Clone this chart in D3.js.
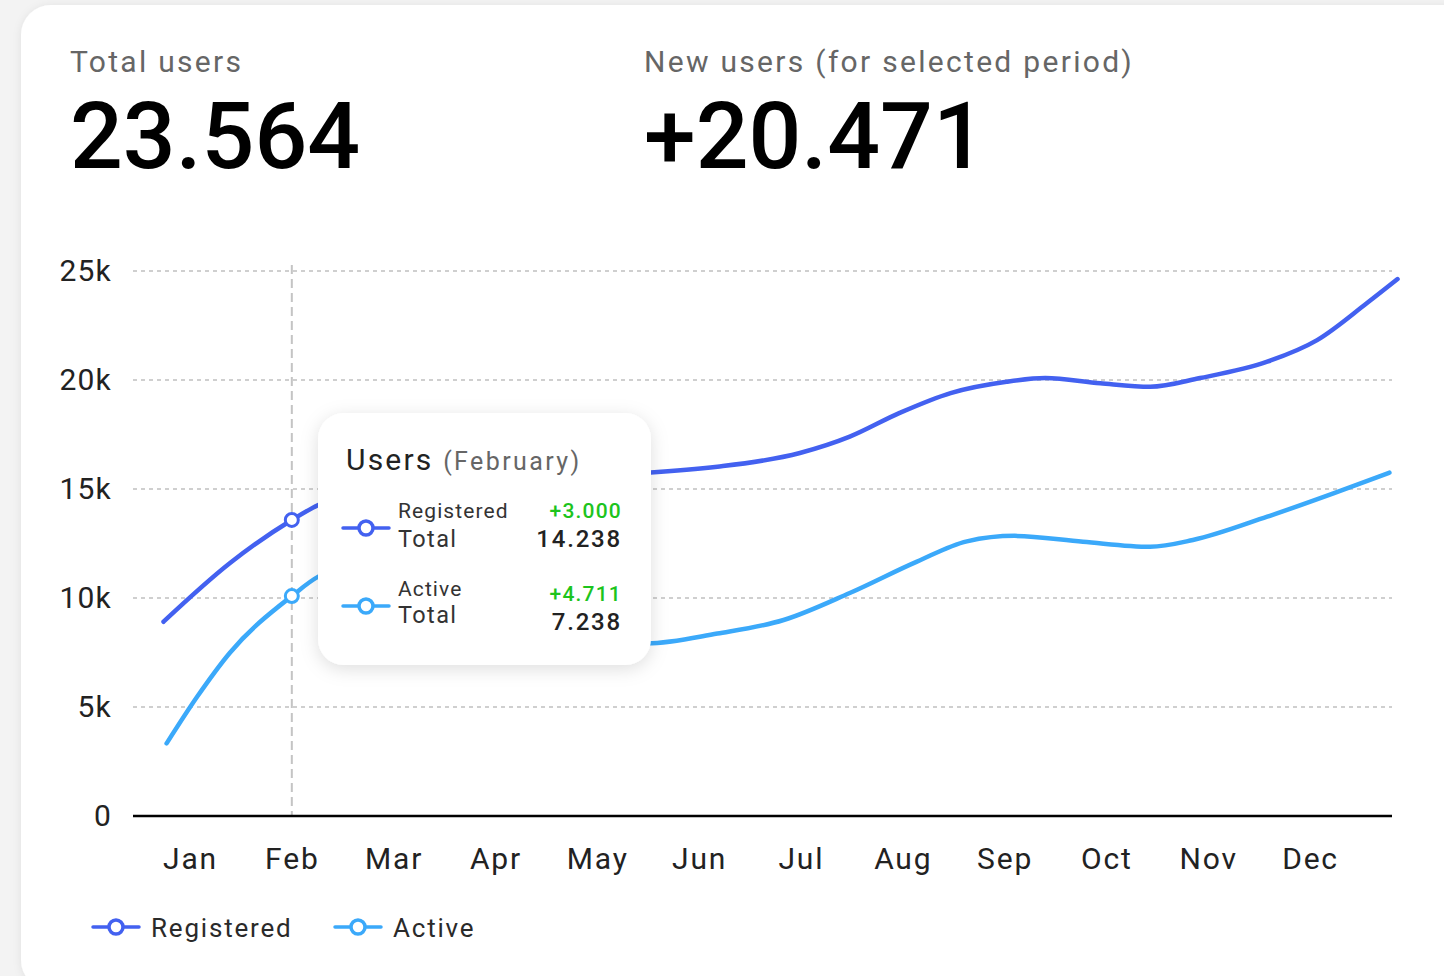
<!DOCTYPE html>
<html lang="en">

<head>
    <meta charset="UTF-8">
    <title>Users</title>
    <style>
        html, body { margin: 0; padding: 0; background: #f3f3f3; overflow: hidden; }
        svg { display: block; font-family: Roboto, "Noto Sans", sans-serif; }
    </style>
</head>

<body>
    <div id="chart"></div>

    <script src="https://d3js.org/d3.v7.min.js"></script>
    <script>
        // ---- data ----
        const months = ["Jan", "Feb", "Mar", "Apr", "May", "Jun", "Jul", "Aug", "Sep", "Oct", "Nov", "Dec"];
        const yTicks = [0, 5000, 10000, 15000, 20000, 25000];

        // position in months (0 = Jan) and value
        const registeredAt = [-0.26, 0.39, 1, 1.26, 2, 3, 4, 4.49, 5.18, 5.99, 6.48, 6.97, 7.47, 8.02, 8.4, 8.94, 9.43, 9.92, 10.58, 11.07, 11.56, 11.86];
        const registeredValues = [8910, 11590, 13580, 14270, 15100, 15450, 15650, 15750, 16020, 16650, 17400, 18490, 19400, 19920, 20090, 19850, 19690, 20090, 20840, 21830, 23530, 24630];

        const activeAt = [-0.23, 0.07, 0.39, 1, 1.26, 2, 3, 3.9, 4.49, 5.18, 5.83, 6.48, 7.14, 7.63, 8.1, 8.77, 9.43, 9.85, 10.58, 11.23, 11.78];
        const activeValues = [3330, 5470, 7480, 10090, 10980, 11900, 10300, 8200, 7920, 8370, 8990, 10230, 11670, 12600, 12850, 12580, 12350, 12660, 13730, 14800, 15750];

        const selectedMonth = 1; // February

        const stats = [
            { label: "Total users", value: "23.564" },
            { label: "New users (for selected period)", value: "+20.471" }
        ];

        const tooltipRows = [
            { name: "Registered", change: "+3.000", total: "14.238" },
            { name: "Active", change: "+4.711", total: "7.238" }
        ];

        const seriesNames = ["Registered", "Active"];
        const colors = ["#4361f0", "#3ba9fa"];

        // ---- layout ----
        const W = 1444, H = 976;
        const margin = { top: 271, right: 52, bottom: 160, left: 133 },
            width = W - margin.left - margin.right,
            height = H - margin.top - margin.bottom;

        const svg = d3.select("#chart").append("svg")
            .attr("width", W)
            .attr("height", H);

        const defs = svg.append("defs");
        defs.append("filter").attr("id", "cardShadow")
            .attr("x", "-5%").attr("y", "-5%").attr("width", "110%").attr("height", "110%")
            .append("feDropShadow")
            .attr("dx", 0).attr("dy", 1).attr("stdDeviation", 4)
            .attr("flood-color", "#000").attr("flood-opacity", 0.08);
        defs.append("filter").attr("id", "tipShadow")
            .attr("x", "-20%").attr("y", "-20%").attr("width", "140%").attr("height", "140%")
            .append("feDropShadow")
            .attr("dx", 0).attr("dy", 4).attr("stdDeviation", 9)
            .attr("flood-color", "#000").attr("flood-opacity", 0.13);

        // card
        svg.append("rect")
            .attr("x", 21).attr("y", 5)
            .attr("width", 1500).attr("height", 985)
            .attr("rx", 30)
            .attr("fill", "#fff")
            .attr("filter", "url(#cardShadow)");

        // headline numbers
        const head = svg.selectAll(".stat")
            .data(stats)
            .enter().append("g")
            .attr("class", "stat")
            .attr("transform", (d, i) => `translate(${i === 0 ? 70 : 644},0)`);

        head.append("text")
            .attr("y", 72)
            .attr("font-size", "30px")
            .attr("letter-spacing", "2.3px")
            .attr("fill", "#666")
            .text(d => d.label);

        head.append("text")
            .attr("y", 168)
            .attr("font-size", "93px")
            .attr("font-weight", 500)
            .attr("fill", "#000")
            .text(d => d.value);

        const g = svg.append("g")
            .attr("transform", `translate(${margin.left},${margin.top})`);

        const x = d3.scaleLinear()
            .domain([0, 11])
            .range([57, 1177]);

        const y = d3.scaleLinear()
            .domain([0, 25000])
            .range([height, 0]);

        // grid
        g.selectAll(".grid")
            .data(yTicks.filter(d => d > 0))
            .enter().append("line")
            .attr("class", "grid")
            .attr("x1", 0).attr("x2", width)
            .attr("y1", d => y(d)).attr("y2", d => y(d))
            .attr("stroke", "#cfcfcf")
            .attr("stroke-width", 2)
            .attr("stroke-dasharray", "4,4");

        // hover line
        g.append("line")
            .attr("x1", x(selectedMonth)).attr("x2", x(selectedMonth))
            .attr("y1", y(25000) - 6).attr("y2", y(0))
            .attr("stroke", "#c4c4c4")
            .attr("stroke-width", 2)
            .attr("stroke-dasharray", "9,5");

        // axes
        const yAxis = g.append("g")
            .call(d3.axisLeft(y).tickValues(yTicks).tickSize(0).tickPadding(21)
                .tickFormat(d => d === 0 ? "0" : d / 1000 + "k"));
        yAxis.select(".domain").remove();
        yAxis.selectAll("text")
            .attr("font-family", "Roboto, sans-serif")
            .attr("font-size", "30px")
            .attr("letter-spacing", "1.2px")
            .attr("fill", "#222");

        const xAxis = g.append("g")
            .attr("transform", `translate(0,${height})`)
            .call(d3.axisBottom(x).tickValues(d3.range(months.length)).tickSize(0).tickPadding(32)
                .tickFormat(i => months[i]));
        xAxis.select(".domain").remove();
        xAxis.selectAll("text")
            .attr("font-family", "Roboto, sans-serif")
            .attr("font-size", "30px")
            .attr("letter-spacing", "1.8px")
            .attr("fill", "#222");

        g.append("line")
            .attr("x1", 0).attr("x2", width)
            .attr("y1", y(0)).attr("y2", y(0))
            .attr("stroke", "#000")
            .attr("stroke-width", 2.5);

        // lines
        const series = [
            registeredAt.map((m, i) => ({ m: m, v: registeredValues[i] })),
            activeAt.map((m, i) => ({ m: m, v: activeValues[i] }))
        ];

        const line = d3.line()
            .x(d => x(d.m))
            .y(d => y(d.v))
            .curve(d3.curveMonotoneX);

        g.selectAll(".series")
            .data(series)
            .enter().append("path")
            .attr("class", "series")
            .attr("fill", "none")
            .attr("stroke", (d, i) => colors[i])
            .attr("stroke-width", 4.5)
            .attr("stroke-linecap", "round")
            .attr("d", line);

        // selected points
        g.selectAll(".dot")
            .data(series.map(s => s.find(p => p.m === selectedMonth)))
            .enter().append("circle")
            .attr("class", "dot")
            .attr("cx", d => x(d.m))
            .attr("cy", d => y(d.v))
            .attr("r", 6.5)
            .attr("fill", "#fff")
            .attr("stroke", (d, i) => colors[i])
            .attr("stroke-width", 3);

        // tooltip
        const tip = svg.append("g")
            .attr("transform", "translate(318,413)");

        tip.append("rect")
            .attr("width", 333).attr("height", 252)
            .attr("rx", 26)
            .attr("fill", "#fff")
            .attr("filter", "url(#tipShadow)");

        const title = tip.append("text")
            .attr("x", 28).attr("y", 57);
        title.append("tspan")
            .attr("font-size", "30px")
            .attr("letter-spacing", "2.2px")
            .attr("fill", "#222")
            .text("Users ");
        title.append("tspan")
            .attr("font-size", "25px")
            .attr("letter-spacing", "2.4px")
            .attr("fill", "#666")
            .text("(February)");

        const row = tip.selectAll(".row")
            .data(tooltipRows)
            .enter().append("g")
            .attr("class", "row")
            .attr("transform", (d, i) => `translate(0,${105 + i * 78})`);

        function legendIcon(sel, color) {
            sel.append("line")
                .attr("x1", -23).attr("x2", 23)
                .attr("stroke", color)
                .attr("stroke-width", 3.5)
                .attr("stroke-linecap", "round");
            sel.append("circle")
                .attr("r", 7)
                .attr("fill", "#fff")
                .attr("stroke", color)
                .attr("stroke-width", 3.5);
        }

        row.each(function (d, i) {
            const r = d3.select(this);
            legendIcon(r.append("g").attr("transform", "translate(48,10)"), colors[i]);
            r.append("text")
                .attr("x", 80).attr("y", 0)
                .attr("font-size", "21px")
                .attr("letter-spacing", "1.1px")
                .attr("fill", "#333")
                .text(d.name);
            r.append("text")
                .attr("x", 80).attr("y", i === 0 ? 29 : 27)
                .attr("font-size", "23.5px")
                .attr("letter-spacing", "1.4px")
                .attr("fill", "#333")
                .text("Total");
            r.append("text")
                .attr("x", 304).attr("y", i === 0 ? 0 : 5)
                .attr("text-anchor", "end")
                .attr("font-size", "21px")
                .attr("font-weight", 500)
                .attr("letter-spacing", "1.2px")
                .attr("fill", "#1dc41d")
                .text(d.change);
            r.append("text")
                .attr("x", 304).attr("y", i === 0 ? 29 : 34)
                .attr("text-anchor", "end")
                .attr("font-size", "24px")
                .attr("font-weight", 500)
                .attr("letter-spacing", "1.8px")
                .attr("fill", "#222")
                .text(d.total);
        });

        // legend
        const legend = svg.append("g")
            .attr("transform", "translate(116,927)");

        const item = legend.selectAll(".item")
            .data(seriesNames)
            .enter().append("g")
            .attr("class", "item")
            .attr("transform", (d, i) => `translate(${i * 242},0)`);

        item.each(function (d, i) { legendIcon(d3.select(this), colors[i]); });

        item.append("text")
            .attr("x", 35).attr("y", 10)
            .attr("font-size", "26px")
            .attr("letter-spacing", "1.8px")
            .attr("fill", "#2a2a2a")
            .text(d => d);
    </script>
</body>

</html>
